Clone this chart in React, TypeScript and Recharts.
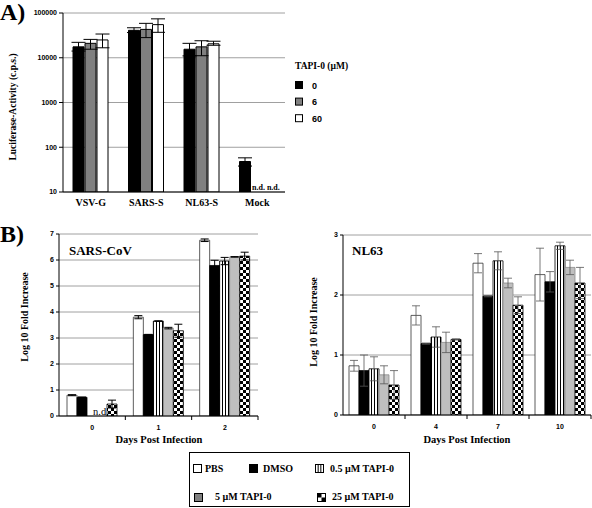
import React from 'react';
import { BarChart, Bar, XAxis, YAxis, CartesianGrid, ErrorBar } from 'recharts';

// ---------- Panel A data ----------
const categoriesA = ['VSV-G', 'SARS-S', 'NL63-S', 'Mock'];
const tapiDoses = ['0', '6', '60'];
const tapi0 = [17500, 41000, 15500, 48];
const tapi6 = [21000, 43000, 17500, null];
const tapi60 = [25000, 55000, 20500, null];
const err0 = [[3400, 4600], [4400, 5800], [4500, 5500], [10, 10]];
const err6 = [[5500, 4700], [14800, 15700], [6400, 6500], null];
const err60 = [[8300, 8900], [18000, 19000], [1500, 2900], null];
const ticksA = [10, 100, 1000, 10000, 100000];

// ---------- Panel B (SARS-CoV) data ----------
const daysSars = ['0', '1', '2'];
const sarsPBS = [0.8, 3.8, 6.76];
const sarsDMSO = [0.72, 3.13, 5.79];
const sarsT05 = [null, 3.65, 5.96];
const sarsT5 = [null, 3.38, 6.12];
const sarsT25 = [0.46, 3.28, 6.15];
const sarsErrPBS = [0.02, 0.06, 0.05];
const sarsErrDMSO = [0.01, 0.01, 0.2];
const sarsErrT05 = [null, 0.01, 0.14];
const sarsErrT5 = [null, 0.03, 0.01];
const sarsErrT25 = [0.15, 0.25, 0.15];
const ticksSars = [0, 1, 2, 3, 4, 5, 6, 7];

// ---------- Panel B (NL63) data ----------
const daysNL = ['0', '4', '7', '10'];
const nlPBS = [0.82, 1.66, 2.53, 2.34];
const nlDMSO = [0.74, 1.19, 1.98, 2.22];
const nlT05 = [0.77, 1.3, 2.57, 2.82];
const nlT5 = [0.67, 1.21, 2.2, 2.46];
const nlT25 = [0.5, 1.26, 1.83, 2.2];
const nlErrPBS = [0.09, 0.16, 0.16, 0.44];
const nlErrDMSO = [0.26, 0.01, 0.01, 0.17];
const nlErrT05 = [0.2, 0.17, 0.15, 0.06];
const nlErrT5 = [0.15, 0.17, 0.08, 0.12];
const nlErrT25 = [0.24, 0.01, 0.14, 0.26];
const ticksNL = [0, 1, 2, 3];

const treatments = ['PBS', 'DMSO', '0.5 µM TAPI-0', '5 µM TAPI-0', '25 µM TAPI-0'];

// ---------- build tables ----------
const rowsA = categoriesA.map((c, i) => ({
  cat: c, t0: tapi0[i], t6: tapi6[i], t60: tapi60[i], e0: err0[i], e6: err6[i], e60: err60[i],
}));
const sarsVals = [sarsPBS, sarsDMSO, sarsT05, sarsT5, sarsT25];
const sarsErrs = [sarsErrPBS, sarsErrDMSO, sarsErrT05, sarsErrT5, sarsErrT25];
const nlVals = [nlPBS, nlDMSO, nlT05, nlT5, nlT25];
const nlErrs = [nlErrPBS, nlErrDMSO, nlErrT05, nlErrT5, nlErrT25];
const buildRows = (days: string[], vals: (number | null)[][], errs: (number | null)[][]) =>
  days.map((d, i) => {
    const r: any = { day: d };
    vals.forEach((v, k) => { r['s' + k] = v[i]; r['e' + k] = errs[k][i]; });
    return r;
  });
const rowsSars = buildRows(daysSars, sarsVals, sarsErrs);
const rowsNL = buildRows(daysNL, nlVals, nlErrs);

// ---------- styles ----------
const SERIF = "'Liberation Serif', 'Times New Roman', serif";
const SANS = "'Liberation Sans', Arial, sans-serif";
const seriesA = [
  { key: 't0', err: 'e0', fill: '#000000' },
  { key: 't6', err: 'e6', fill: '#808080' },
  { key: 't60', err: 'e60', fill: '#ffffff' },
];
const treatStyle = [
  { fill: '#ffffff', stroke: '#333333', legend: '#ffffff' },
  { fill: '#000000', stroke: '#000000', legend: '#000000' },
  { fill: 'url(#vstripes)', stroke: '#000000', legend: 'stripes' },
  { fill: '#bfbfbf', stroke: '#8a8a8a', legend: '#808080' },
  { fill: 'url(#checker)', stroke: '#000000', legend: 'checker' },
];
const sansTick = { fontFamily: SANS, fontWeight: 700, fontSize: 7, fill: '#000' };

const DayTick = (props: any) => {
  const { x, y, payload, half } = props;
  return (
    <g>
      <line x1={x + half} x2={x + half} y1={y} y2={y + 4} stroke="#000" strokeWidth={1} />
      <text x={x} y={y + 14} textAnchor="middle" fontFamily={SANS} fontWeight="bold" fontSize={7} fill="#000">
        {payload.value}
      </text>
    </g>
  );
};

const SARS_PLOT_W = 199;
const NL_PLOT_W = 248;

const LegendIcon = ({ x, y, kind, size = 8 }: { x: number; y: number; kind: string; size?: number }) => {
  if (kind === 'stripes') {
    return (
      <g>
        <rect x={x} y={y} width={size} height={size} fill="#fff" stroke="#000" />
        <line x1={x + size / 3} x2={x + size / 3} y1={y} y2={y + size} stroke="#000" />
        <line x1={x + (2 * size) / 3} x2={x + (2 * size) / 3} y1={y} y2={y + size} stroke="#000" />
      </g>
    );
  }
  if (kind === 'checker') {
    return (
      <g>
        <rect x={x} y={y} width={size} height={size} fill="#fff" stroke="#000" />
        <rect x={x} y={y} width={size / 2} height={size / 2} fill="#000" />
        <rect x={x + size / 2} y={y + size / 2} width={size / 2} height={size / 2} fill="#000" />
      </g>
    );
  }
  return <rect x={x} y={y} width={size} height={size} fill={kind} stroke="#000" />;
};

export default function App() {
  const legendBPos = [
    { x: 193, y: 464, tx: 205, ty: 472 },
    { x: 249, y: 464, tx: 263, ty: 472 },
    { x: 315, y: 464, tx: 330, ty: 472 },
    { x: 194, y: 493, tx: 215, ty: 500 },
    { x: 317, y: 493, tx: 332, ty: 500 },
  ];
  return (
    <div style={{ position: 'absolute', left: 0, top: 0, width: 592, height: 508, background: '#fff', overflow: 'hidden' }}>
      {/* Panel A */}
      <div style={{ position: 'absolute', left: 0, top: 0 }}>
        <BarChart width={300} height={220} data={rowsA} margin={{ top: 13, right: 15, left: 0, bottom: 0 }}
          barGap={1} barSize={11} baseValue={10}>
          <CartesianGrid vertical={false} stroke="#a0a0a0" />
          <XAxis dataKey="cat" height={28} axisLine={{ stroke: '#000' }} tickLine={false} tickSize={0} tickMargin={7}
            tick={{ fontFamily: SERIF, fontWeight: 700, fontSize: 10, fill: '#000' }} interval={0} />
          <YAxis type="number" scale="log" domain={[10, 100000]} ticks={ticksA} allowDataOverflow width={63}
            axisLine={{ stroke: '#000' }} tickLine={{ stroke: '#000' }} tickSize={4} tickMargin={2}
            tick={sansTick} tickFormatter={(v: number) => String(v)} interval={0} />
          {seriesA.map((s) => (
            <Bar key={s.key} dataKey={s.key} fill={s.fill} stroke="#000" strokeWidth={1} isAnimationActive={false}>
              <ErrorBar dataKey={s.err} width={7} stroke="#000" strokeWidth={1} />
            </Bar>
          ))}
        </BarChart>
      </div>

      {/* Panel B SARS-CoV */}
      <div style={{ position: 'absolute', left: 0, top: 225 }}>
        <BarChart width={270} height={225} data={rowsSars} margin={{ top: 9, right: 12, left: 0, bottom: 0 }}
          barGap={0} barSize={10}>
          <CartesianGrid vertical={false} stroke="#a0a0a0" />
          <XAxis dataKey="day" height={34} axisLine={{ stroke: '#000' }} tickLine={false} tickSize={0} tickMargin={0}
            tick={(p: any) => <DayTick {...p} half={SARS_PLOT_W / (2 * daysSars.length)} />} interval={0} />
          <YAxis type="number" domain={[0, 7]} ticks={ticksSars} width={59} allowDataOverflow
            axisLine={{ stroke: '#000' }} tickLine={{ stroke: '#000' }} tickSize={3} tickMargin={2}
            tick={sansTick} interval={0} />
          {treatStyle.map((t, k) => (
            <Bar key={k} dataKey={'s' + k} name={treatments[k]} fill={t.fill} stroke={t.stroke} strokeWidth={0.8}
              isAnimationActive={false}>
              <ErrorBar dataKey={'e' + k} width={4} stroke="#000" strokeWidth={1} />
            </Bar>
          ))}
        </BarChart>
      </div>

      {/* Panel B NL63 */}
      <div style={{ position: 'absolute', left: 290, top: 225 }}>
        <BarChart width={302} height={225} data={rowsNL} margin={{ top: 10, right: 1, left: 0, bottom: 0 }}
          barGap={0} barSize={10}>
          <CartesianGrid vertical={false} stroke="#a0a0a0" />
          <XAxis dataKey="day" height={35} axisLine={{ stroke: '#000' }} tickLine={false} tickSize={0} tickMargin={0}
            tick={(p: any) => <DayTick {...p} half={NL_PLOT_W / (2 * daysNL.length)} />} interval={0} />
          <YAxis type="number" domain={[0, 3]} ticks={ticksNL} width={53} allowDataOverflow
            axisLine={{ stroke: '#000' }} tickLine={{ stroke: '#000' }} tickSize={3} tickMargin={2}
            tick={sansTick} interval={0} />
          {treatStyle.map((t, k) => (
            <Bar key={k} dataKey={'s' + k} name={treatments[k]} fill={t.fill} stroke={t.stroke} strokeWidth={0.8}
              isAnimationActive={false}>
              <ErrorBar dataKey={'e' + k} width={4} stroke="#555" strokeWidth={0.8} />
            </Bar>
          ))}
        </BarChart>
      </div>

      {/* Overlay text, legends and patterns */}
      <svg width={592} height={508} style={{ position: 'absolute', left: 0, top: 0, pointerEvents: 'none' }}>
        <defs>
          <pattern id="vstripes" patternUnits="userSpaceOnUse" width={3} height={3}>
            <rect x={0} y={0} width={3} height={3} fill="#fff" />
            <rect x={0} y={0} width={1} height={3} fill="#000" />
          </pattern>
          <pattern id="checker" patternUnits="userSpaceOnUse" width={6} height={6}>
            <rect x={0} y={0} width={6} height={6} fill="#fff" />
            <rect x={0} y={0} width={3} height={3} fill="#000" />
            <rect x={3} y={3} width={3} height={3} fill="#000" />
          </pattern>
        </defs>

        <text x={0} y={20} fontFamily={SERIF} fontWeight="bold" fontSize={24} fill="#000">A)</text>
        <text x={0} y={242} fontFamily={SERIF} fontWeight="bold" fontSize={24} fill="#000">B)</text>

        <text transform="translate(16,107) rotate(-90)" textAnchor="middle" fontFamily={SERIF} fontWeight="bold"
          fontSize={9.5} fill="#000">Luciferase-Activity (c.p.s.)</text>

        <text x={252} y={190} fontFamily={SERIF} fontWeight="bold" fontSize={8} fill="#000">n.d. n.d.</text>

        {/* Legend A */}
        <text x={295} y={69} fontFamily={SERIF} fontWeight="bold" fontSize={9.5} fill="#000">TAPI-0 (µM)</text>
        {tapiDoses.map((d, i) => (
          <g key={d}>
            <rect x={295.5} y={81.5 + i * 16.6} width={7} height={7} fill={seriesA[i].fill} stroke="#000" />
            <text x={312} y={88.5 + i * 16.6} fontFamily={SANS} fontWeight="bold" fontSize={9} fill="#000">{d}</text>
          </g>
        ))}

        {/* Panel B titles */}
        <text x={69} y={255} fontFamily={SERIF} fontWeight="bold" fontSize={13} fill="#000">SARS-CoV</text>
        <text x={352} y={255} fontFamily={SERIF} fontWeight="bold" fontSize={13} fill="#000">NL63</text>
        <text x={93} y={415} fontFamily={SERIF} fontSize={10.5} fill="#000">n.d.</text>

        <text transform="translate(28,317) rotate(-90)" textAnchor="middle" fontFamily={SERIF} fontWeight="bold"
          fontSize={10} fill="#000">Log 10 Fold Increase</text>
        <text transform="translate(317,322) rotate(-90)" textAnchor="middle" fontFamily={SERIF} fontWeight="bold"
          fontSize={10} fill="#000">Log 10 Fold Increase</text>
        <text x={159} y={443} textAnchor="middle" fontFamily={SERIF} fontWeight="bold" fontSize={10.5} fill="#000">Days Post Infection</text>
        <text x={467} y={443} textAnchor="middle" fontFamily={SERIF} fontWeight="bold" fontSize={10.5} fill="#000">Days Post Infection</text>

        {/* Legend B */}
        <rect x={189.5} y={452.5} width={220} height={54} fill="none" stroke="#000" strokeWidth={1} />
        {treatments.map((t, k) => (
          <g key={t}>
            <LegendIcon x={legendBPos[k].x + 0.5} y={legendBPos[k].y + 0.5} kind={treatStyle[k].legend} />
            <text x={legendBPos[k].tx} y={legendBPos[k].ty} fontFamily={SERIF} fontWeight="bold" fontSize={10} fill="#000">{t}</text>
          </g>
        ))}
      </svg>
    </div>
  );
}
